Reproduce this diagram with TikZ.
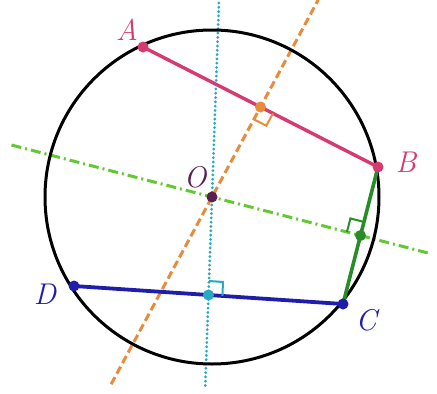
\documentclass[tikz,border=0pt]{standalone}
\usetikzlibrary{calc}
\definecolor{pinkc}{RGB}{214,58,110}
\definecolor{bluec}{RGB}{30,30,170}
\definecolor{greenc}{RGB}{40,140,40}
\definecolor{lgreen}{RGB}{100,200,50}
\definecolor{orangec}{RGB}{230,140,60}
\definecolor{cyanc}{RGB}{40,170,195}
\definecolor{purplec}{RGB}{90,30,80}
\tikzset{
  lbl/.style={font=\fontsize{30}{34}\selectfont\itshape},
  pt/.style={circle,fill=#1,inner sep=0pt,minimum size=11pt},
  ra/.style={draw=#1,line width=2pt},
}
\begin{document}
\begin{tikzpicture}[x=1pt,y=-1pt]
\useasboundingbox (0,0) rectangle (437,394);
\coordinate (O) at (212,197);
\coordinate (A) at (143,47);
\coordinate (B) at (378,167);
\coordinate (C) at (343,304);
\coordinate (D) at (74,286);
\coordinate (Mab) at ($(A)!0.5!(B)$);
\coordinate (Mbc) at ($(B)!0.5!(C)$);
\coordinate (Mdc) at ($(D)!0.5!(C)$);
% perpendicular bisectors
\coordinate (ot) at ($(O)!2.19!(Mab)$);
\coordinate (ob) at ($(O)!-2.08!(Mab)$);
\draw[orangec,line width=3pt,dash pattern=on 8pt off 4pt] (ob) -- (ot);
\coordinate (ct) at ($(O)!-1.98!(Mdc)$);
\coordinate (cb) at ($(O)!1.95!(Mdc)$);
\draw[cyanc,line width=3pt,dash pattern=on 0.1pt off 4.2pt,line cap=round] (ct) -- (cb);
\coordinate (gl) at ($(O)!-1.35!(Mbc)$);
\coordinate (gr) at ($(O)!1.47!(Mbc)$);
\draw[lgreen,line width=3pt,dash pattern=on 10pt off 4pt on 2pt off 4pt] (gl) -- (gr);
% circle
\draw[black,line width=3pt] (O) circle (167);
% chords
\draw[pinkc,line width=3.4pt] (A) -- (B);
\draw[bluec,line width=3.8pt] (D) -- (C);
\draw[greenc,line width=3.6pt] (B) -- (C);
% right angle marks
\coordinate (a1) at ($(Mab)!14pt!(B)$);
\coordinate (a2) at ($(Mab)!14pt!(O)$);
\draw[ra=orangec] (a1) -- ($(a1)+(a2)-(Mab)$) -- (a2);
\coordinate (b1) at ($(Mbc)!14pt!(B)$);
\coordinate (b2) at ($(Mbc)!14pt!(O)$);
\draw[ra=greenc] (b1) -- ($(b1)+(b2)-(Mbc)$) -- (b2);
\coordinate (c1) at ($(Mdc)!14pt!(C)$);
\coordinate (c2) at ($(Mdc)!14pt!(O)$);
\draw[ra=cyanc] (c1) -- ($(c1)+(c2)-(Mdc)$) -- (c2);
% points
\node[pt=pinkc] (nA) at (A) {};
\node[pt=pinkc] (nB) at (B) {};
\node[pt=bluec] (nC) at (C) {};
\node[pt=bluec] (nD) at (D) {};
\node[pt=purplec] (nO) at (O) {};
\node[pt=orangec] (nMab) at (Mab) {};
\node[pt=greenc] (nMbc) at (Mbc) {};
\node[pt=cyanc] (nMdc) at (Mdc) {};
% labels
\node[lbl,text=pinkc] (lA) at (127,30) {A};
\node[lbl,text=pinkc] (lB) at (406,162) {B};
\node[lbl,text=bluec] (lC) at (366,320) {C};
\node[lbl,text=bluec] (lD) at (45,294) {D};
\node[lbl,text=purplec] (lO) at (195,177) {O};
\end{tikzpicture}
\end{document}
